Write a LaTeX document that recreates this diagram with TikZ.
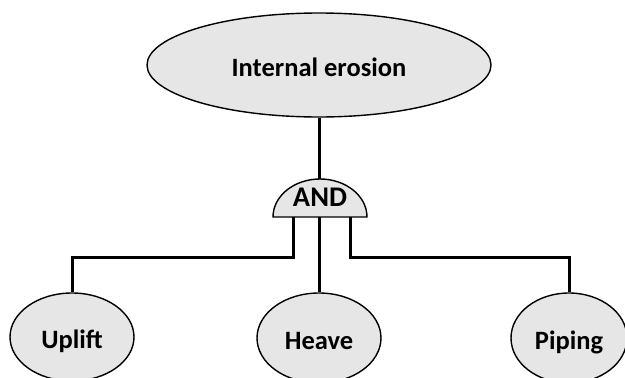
\documentclass[tikz,border=0pt]{standalone}
\usepackage{fontspec}
\setmainfont{Carlito}
\usetikzlibrary{shapes.geometric}
\definecolor{eventfill}{RGB}{230,230,230}
\tikzset{
  label font/.style={font=\fontsize{26.5}{31}\selectfont\bfseries},
  event/.style={ellipse, draw=black, line width=1.4pt, fill=eventfill,
    inner sep=0pt, label font, text height=24pt, text depth=2pt},
  gate/.style={draw=black, line width=1.4pt, fill=eventfill},
  link/.style={draw=black, line width=3pt},
}
\begin{document}
\begin{tikzpicture}[x=1pt, y=-1pt]
  \fill[white] (0,0) rectangle (625,378);
  \useasboundingbox (0,0) rectangle (625,378);
  \clip (0,0) rectangle (625,378);

  % top event
  \node[event, minimum width=344, minimum height=104] (top) at (319,65) {Internal erosion};

  % AND gate drawn as a half ellipse
  \draw[gate] (273,217) arc[start angle=180, end angle=360, x radius=47, y radius=38] -- cycle;
  \node[font=\fontsize{28.5}{33}\selectfont\bfseries, inner sep=0pt] (and) at (320,197) {AND};
  \coordinate (andtop) at (319,179);
  \coordinate (andL) at (293,217);
  \coordinate (andM) at (319,217);
  \coordinate (andR) at (350,217);

  % basic events
  \node[event, minimum width=124, minimum height=88] (uplift) at (72,337) {Uplift};
  \node[event, minimum width=124, minimum height=90] (heave) at (319,338) {Heave};
  \node[event, minimum width=116, minimum height=90] (piping) at (569,338) {Piping};

  % connectors
  \draw[link] (top.south) -- (andtop);
  \draw[link] (andL) -- ++(0,40) -| (uplift.north);
  \draw[link] (andM) -- (heave.north);
  \draw[link] (andR) -- ++(0,40) -| (piping.north);
\end{tikzpicture}
\end{document}
